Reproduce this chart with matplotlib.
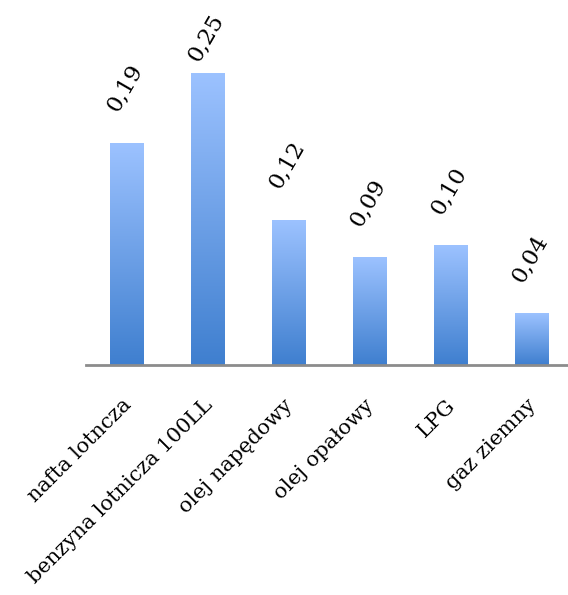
import matplotlib
matplotlib.use("Agg")
import matplotlib.pyplot as plt
import matplotlib.transforms as mtransforms
import numpy as np
from matplotlib.colors import LinearSegmentedColormap

categories = ["nafta lotncza", "benzyna lotnicza 100LL", "olej napędowy",
              "olej opałowy", "LPG", "gaz ziemny"]
values = [0.19, 0.25, 0.124, 0.092, 0.102, 0.044]
value_labels = ["0,19", "0,25", "0,12", "0,09", "0,10", "0,04"]

plt.rcParams['font.family'] = ['DejaVu Serif']

fig = plt.figure(figsize=(5.68, 5.95), dpi=100)
ax = fig.add_axes([86/568, 230/595, (572-86)/568, 365/595])

x = np.arange(len(categories))
bars = ax.bar(x, values, width=0.41, color='none', edgecolor='none', zorder=2)

cmap = LinearSegmentedColormap.from_list("g", ["#3f7fcf", "#9cc2ff"])
grad = np.linspace(0, 1, 256).reshape(-1, 1)
for b in bars:
    x0, y0 = b.get_x(), b.get_y()
    w, h = b.get_width(), b.get_height()
    ax.add_patch(plt.Rectangle((x0 + 0.012, y0), w, h - 0.001, color='#000000', alpha=0.08, zorder=1, lw=0))
    ax.imshow(grad, extent=(x0, x0 + w, y0, y0 + h), origin='lower', aspect='auto',
              cmap=cmap, zorder=2, interpolation='bilinear')

ax.set_xlim(-0.5, 5.5)
ax.set_ylim(0, 365/1168)

fig.canvas.draw()
renderer = fig.canvas.get_renderer()
for xi, v, lab in zip(x, values, value_labels):
    t = ax.annotate(lab, (xi, v), xytext=(-1, 20), textcoords='offset points',
                    ha='center', va='bottom', rotation=60, fontsize=16.5)
    bb = t.get_window_extent(renderer)
    top_px = fig.bbox.height - bb.y1
    if top_px < 10:
        shift = (10 - top_px) * 72 / fig.dpi
        t.set_position((-1, 20 - shift))

ax.set_xticks(x)
ax.set_xticklabels(categories, rotation=45, ha='right', rotation_mode='anchor', fontsize=15)
ax.tick_params(axis='x', length=0, pad=22)
off = mtransforms.ScaledTranslation(-5/100, 0, fig.dpi_scale_trans)
for lbl in ax.get_xticklabels():
    lbl.set_transform(lbl.get_transform() + off)
ax.set_yticks([])
for s in ['top', 'right', 'left']:
    ax.spines[s].set_visible(False)
ax.spines['bottom'].set_color('#8c8c8c')
ax.spines['bottom'].set_linewidth(2)
ax.spines['bottom'].set_zorder(3)
ax.patch.set_alpha(0)

fig.savefig("out.png", dpi=100, facecolor='white')
